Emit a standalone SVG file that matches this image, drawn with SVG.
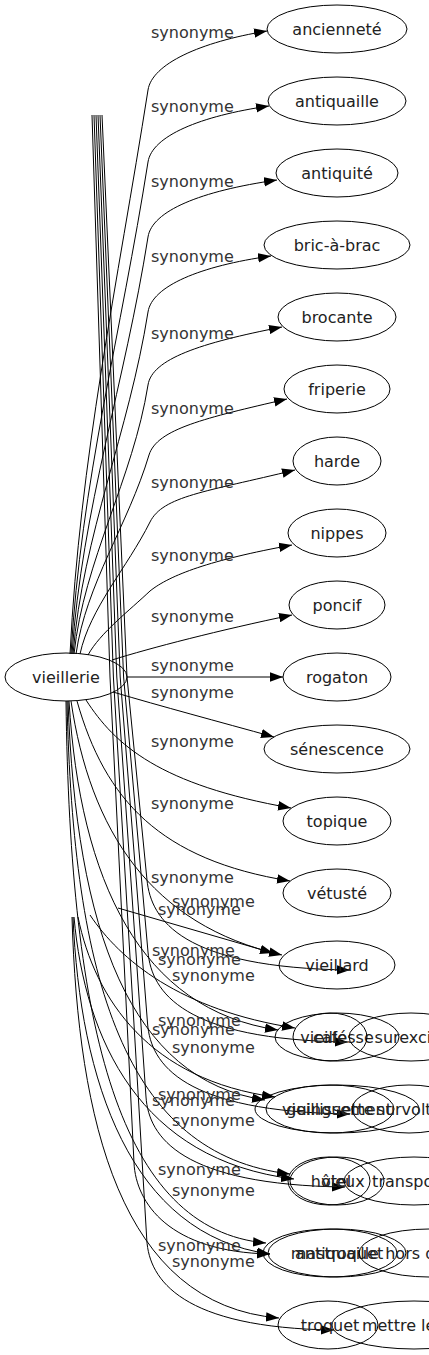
<svg xmlns="http://www.w3.org/2000/svg" width="429" height="1355" viewBox="0 0 429 1355">
<defs>
<marker id="ah" viewBox="0 0 13 10" markerWidth="13" markerHeight="10" refX="13" refY="5" orient="auto" markerUnits="userSpaceOnUse"><path d="M0,0.3 L13,5 L0,9.7 z" fill="#000"/></marker>
</defs>
<style>
.e{fill:none;stroke:#000;stroke-width:1;marker-end:url(#ah)}
.n ellipse{fill:none;stroke:#000;stroke-width:1}
text{font-family:"DejaVu Sans","Noto Sans",sans-serif;font-size:16px;fill:#222}
.n text{text-anchor:middle}
.l{fill:#333}
</style>
<rect width="429" height="1355" fill="#fff"/>
<g id="connectors">
<path class="e" d="M70,654 C80,457 117,287 148,90 C152,64 200,42 267,31"/>
<path class="e" d="M71,654 C81,482 121,334 148,162 C152,136 200,116 269,106"/>
<path class="e" d="M72,654 C82,508 125,383 148,237 C152,211 200,191 277,180"/>
<path class="e" d="M73,654 C83,534 129,432 148,312 C152,286 200,266 271,256"/>
<path class="e" d="M74,654 C84,560 133,479 148,385 C152,359 200,343 282,327"/>
<path class="e" d="M76,654 C86,584 128,525 149,455 C157,429 205,418 287,399"/>
<path class="e" d="M80,654 C90,608 127,568 150,522 C163,496 205,492 295,470"/>
<path class="e" d="M88,655 C100,633 130,610 150,591 C170,575 210,560 292,545"/>
<path class="e" d="M112,660 C150,648 220,630 292,615"/>
<path class="e" d="M127,677 L283,677"/>
<path class="e" d="M113,692 C160,706 220,722 274,737"/>
<path class="e" d="M86,700 C115,745 160,785 291,808"/>
<path class="e" d="M77,701 C105,800 160,860 290,881"/>
<path class="e" d="M71,701 C90,830 150,925 282,955"/>
<path class="e" d="M69,701 C80,880 140,1010 278,1030"/>
<path class="e" d="M68,701 C76,930 130,1080 265,1100"/>
<path class="e" d="M67,701 C73,980 125,1155 290,1174"/>
<path class="e" d="M66,701 C70,1030 120,1230 266,1243"/>
<path class="e" d="M102,115 L127,677 L147,880 C151,920 182,968 350,970"/>
<path class="e" d="M100,115 L123.6,677 L148,952 C151.6,992 183,1040 348,1042"/>
<path class="e" d="M98,115 L120.2,677 L147.6,1024 C150.8,1064 182.6,1112 350,1114"/>
<path class="e" d="M96,115 L116.8,677 L146,1097 C148.8,1137 181,1185 345,1187"/>
<path class="e" d="M94,115 L113.4,677 L146.8,1240 C149.2,1280 182,1328 334,1330"/>
<path class="e" d="M92,115 L110,677 L134,1163 C136,1203 169,1252 270,1254"/>
<path class="e" d="M118,908 L273,953"/>
<path class="e" d="M90,915 C120,960 180,1010 295,1028"/>
<path class="e" d="M78,917 C95,1000 150,1080 275,1097"/>
<path class="e" d="M74,917 C85,1040 140,1160 294,1179"/>
<path class="e" d="M73,917 C80,1080 130,1235 270,1254"/>
<path class="e" d="M72,917 C78,1120 120,1305 279,1318"/>
<text class="l" x="151" y="38">synonyme</text>
<text class="l" x="151" y="112">synonyme</text>
<text class="l" x="151" y="187">synonyme</text>
<text class="l" x="151" y="262">synonyme</text>
<text class="l" x="151" y="339">synonyme</text>
<text class="l" x="151" y="414">synonyme</text>
<text class="l" x="151" y="488">synonyme</text>
<text class="l" x="151" y="561">synonyme</text>
<text class="l" x="151" y="622">synonyme</text>
<text class="l" x="151" y="671">synonyme</text>
<text class="l" x="151" y="698">synonyme</text>
<text class="l" x="151" y="747">synonyme</text>
<text class="l" x="151" y="809">synonyme</text>
<text class="l" x="151" y="883">synonyme</text>
<text class="l" x="172" y="907">synonyme</text>
<text class="l" x="158" y="915">synonyme</text>
<text class="l" x="152" y="956">synonyme</text>
<text class="l" x="158" y="965">synonyme</text>
<text class="l" x="172" y="981">synonyme</text>
<text class="l" x="158" y="1026">synonyme</text>
<text class="l" x="152" y="1035">synonyme</text>
<text class="l" x="172" y="1053">synonyme</text>
<text class="l" x="158" y="1100">synonyme</text>
<text class="l" x="152" y="1106">synonyme</text>
<text class="l" x="172" y="1126">synonyme</text>
<text class="l" x="158" y="1175">synonyme</text>
<text class="l" x="172" y="1196">synonyme</text>
<text class="l" x="158" y="1251">synonyme</text>
<text class="l" x="172" y="1267">synonyme</text>
</g>
<g id="node-vieillerie" class="n"><ellipse cx="66" cy="677" rx="61" ry="24"/><text x="66" y="683">vieillerie</text></g>
<g id="node-anciennete" class="n"><ellipse cx="337" cy="29" rx="70" ry="24"/><text x="337" y="35">ancienneté</text></g>
<g id="node-antiquaille" class="n"><ellipse cx="337" cy="101" rx="69" ry="24"/><text x="337" y="107">antiquaille</text></g>
<g id="node-antiquite" class="n"><ellipse cx="337" cy="173" rx="61" ry="24"/><text x="337" y="179">antiquité</text></g>
<g id="node-bricabrac" class="n"><ellipse cx="337" cy="245" rx="73" ry="24"/><text x="337" y="251">bric-à-brac</text></g>
<g id="node-brocante" class="n"><ellipse cx="337" cy="317" rx="59" ry="24"/><text x="337" y="323">brocante</text></g>
<g id="node-friperie" class="n"><ellipse cx="337" cy="389" rx="53" ry="24"/><text x="337" y="395">friperie</text></g>
<g id="node-harde" class="n"><ellipse cx="337" cy="461" rx="44" ry="24"/><text x="337" y="467">harde</text></g>
<g id="node-nippes" class="n"><ellipse cx="337" cy="533" rx="49" ry="24"/><text x="337" y="539">nippes</text></g>
<g id="node-poncif" class="n"><ellipse cx="337" cy="605" rx="48" ry="24"/><text x="337" y="611">poncif</text></g>
<g id="node-rogaton" class="n"><ellipse cx="337" cy="677" rx="54" ry="24"/><text x="337" y="683">rogaton</text></g>
<g id="node-senescence" class="n"><ellipse cx="337" cy="749" rx="73" ry="24"/><text x="337" y="755">sénescence</text></g>
<g id="node-topique" class="n"><ellipse cx="337" cy="821" rx="54" ry="24"/><text x="337" y="827">topique</text></g>
<g id="node-vetuste" class="n"><ellipse cx="337" cy="893" rx="54" ry="24"/><text x="337" y="899">vétusté</text></g>
<g id="node-vieillard" class="n"><ellipse cx="337" cy="965" rx="58" ry="24"/><text x="337" y="971">vieillard</text></g>
<g id="node-vieillesse" class="n"><ellipse cx="337" cy="1037" rx="62" ry="24"/><text x="337" y="1043">vieillesse</text></g>
<g id="node-cafe" class="n"><ellipse cx="330" cy="1037" rx="37" ry="24"/><text x="330" y="1043">café</text></g>
<g id="node-surexcite" class="n"><ellipse cx="411" cy="1037" rx="62" ry="24"/><text x="411" y="1043">surexcité</text></g>
<g id="node-vieillissement" class="n"><ellipse cx="337" cy="1109" rx="82" ry="24"/><text x="337" y="1115">vieillissement</text></g>
<g id="node-guinguette" class="n"><ellipse cx="330" cy="1109" rx="64" ry="24"/><text x="330" y="1115">guinguette</text></g>
<g id="node-survolte" class="n"><ellipse cx="409" cy="1109" rx="57" ry="24"/><text x="409" y="1115">survolté</text></g>
<g id="node-hotel" class="n"><ellipse cx="329" cy="1181" rx="41" ry="24"/><text x="331" y="1187">hôtel</text></g>
<g id="node-vieux" class="n"><ellipse cx="337" cy="1181" rx="47" ry="24"/><text x="343" y="1187">vieux</text></g>
<g id="node-transporte" class="n"><ellipse cx="414" cy="1181" rx="70" ry="24"/><text x="414" y="1187">transporté</text></g>
<g id="node-antiquaille2" class="n"><ellipse cx="337" cy="1253" rx="69" ry="24"/><text x="337" y="1259">antiquaille</text></g>
<g id="node-mastroquet" class="n"><ellipse cx="330" cy="1253" rx="67" ry="24"/><text x="337" y="1259">mastroquet</text></g>
<g id="node-horsdesoi" class="n"><ellipse cx="429" cy="1253" rx="70" ry="24"/><text x="429" y="1259">hors de soi</text></g>
<g id="node-troquet" class="n"><ellipse cx="328" cy="1325" rx="50" ry="24"/><text x="330" y="1331">troquet</text></g>
<g id="node-mettrelefeu" class="n"><ellipse cx="414" cy="1325" rx="82" ry="24"/><text x="414" y="1331">mettre le feu</text></g>
</svg>
